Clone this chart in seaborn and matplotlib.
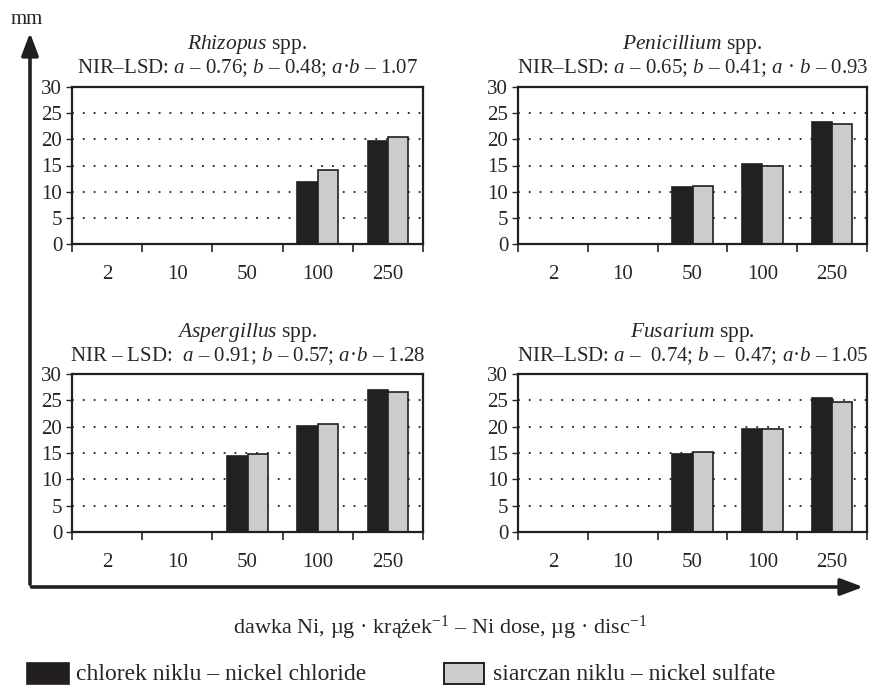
import numpy as np
import pandas as pd
import matplotlib
matplotlib.use("Agg")
import matplotlib.pyplot as plt
from matplotlib.patches import FancyArrowPatch, Rectangle
import seaborn as sns

# dane (mm)
doses = ["2", "10", "50", "100", "250"]
salts = ["chlorek niklu – nickel chloride", "siarczan niklu – nickel sulfate"]

rhizopus_chloride = [0, 0, 0, 11.8, 19.7]
rhizopus_sulfate = [0, 0, 0, 14.2, 20.4]
penicillium_chloride = [0, 0, 10.8, 15.3, 23.3]
penicillium_sulfate = [0, 0, 11.1, 14.9, 23.0]
aspergillus_chloride = [0, 0, 14.4, 20.1, 27.0]
aspergillus_sulfate = [0, 0, 14.9, 20.6, 26.6]
fusarium_chloride = [0, 0, 14.9, 19.6, 25.4]
fusarium_sulfate = [0, 0, 15.2, 19.6, 24.6]

genus = ["Rhizopus", "Penicillium", "Aspergillus", "Fusarium"]
nir = [
    "NIR–LSD: $a$ – 0.76; $b$ – 0.48; $a$·$b$ – 1.07",
    "NIR–LSD: $a$ – 0.65; $b$ – 0.41; $a$ · $b$ – 0.93",
    "NIR – LSD:  $a$ – 0.91; $b$ – 0.57; $a$·$b$ – 1.28",
    "NIR–LSD: $a$ –  0.74; $b$ –  0.47; $a$·$b$ – 1.05",
]
chloride = [rhizopus_chloride, penicillium_chloride, aspergillus_chloride, fusarium_chloride]
sulfate = [rhizopus_sulfate, penicillium_sulfate, aspergillus_sulfate, fusarium_sulfate]

colors = ["#231f20", "#cccccc"]

sns.set_style("ticks")
plt.rcParams["font.family"] = ["Liberation Serif", "DejaVu Serif"]
plt.rcParams["mathtext.fontset"] = "custom"
plt.rcParams["mathtext.rm"] = "Liberation Serif"
plt.rcParams["mathtext.it"] = "Liberation Serif:italic"
plt.rcParams["axes.edgecolor"] = "#231f20"

W, H = 882, 687
fig = plt.figure(figsize=(W / 100, H / 100), dpi=100)


def px_box(x0, y0, x1, y1):
    return [x0 / W, 1 - y1 / H, (x1 - x0) / W, (y1 - y0) / H]


boxes = [
    px_box(72, 87, 423, 244),
    px_box(518, 87, 867, 244),
    px_box(72, 374, 423, 532),
    px_box(518, 374, 867, 532),
]

for i in range(4):
    ax = fig.add_axes(boxes[i])
    d = pd.DataFrame({
        "dose": doses * 2,
        "salt": [salts[0]] * len(doses) + [salts[1]] * len(doses),
        "mm": chloride[i] + sulfate[i],
    })
    sns.barplot(data=d, x="dose", y="mm", hue="salt", order=doses, hue_order=salts,
                palette=colors, width=0.58, edgecolor="#231f20", linewidth=1.2,
                legend=False, ax=ax)
    ax.set_ylim(0, 30)
    ax.set_xlim(-0.5, 4.5)
    ax.set_yticks(range(0, 31, 5))
    ax.set_xlabel("")
    ax.set_ylabel("")
    ax.yaxis.grid(True, color="#231f20", linestyle=(0, (1, 5)), linewidth=1.3)
    ax.set_axisbelow(True)
    for s in ax.spines.values():
        s.set_visible(True)
        s.set_linewidth(1.6)
    ax.tick_params(axis="y", length=4, width=1, direction="out", pad=3, labelsize=15)
    ax.tick_params(axis="x", which="major", length=0, pad=15, labelsize=15)
    ax.set_xticks(np.arange(-0.5, 5, 1), minor=True)
    ax.tick_params(axis="x", which="minor", length=6, width=1.2, direction="out")
    top = 43 if i < 2 else 41
    low = 19 if i < 2 else 18
    ax.annotate(r"$\mathit{%s}$ spp." % genus[i], (0.5, 1), xycoords="axes fraction",
                xytext=(0, top * 0.72), textcoords="offset points",
                ha="center", va="center", fontsize=15.5)
    ax.annotate(nir[i], (0.5, 1), xycoords="axes fraction",
                xytext=(0, low * 0.72), textcoords="offset points",
                ha="center", va="center", fontsize=15)

# osie ze strzałkami
ay = 1 - 587 / H
fig.add_artist(FancyArrowPatch((30 / W, ay), (30 / W, 1 - 30 / H), transform=fig.transFigure,
                               arrowstyle="-|>,head_length=0.8,head_width=0.3",
                               mutation_scale=17, linewidth=2.6, color="#231f20"))
fig.add_artist(FancyArrowPatch((28.7 / W, ay), (866 / W, ay), transform=fig.transFigure,
                               arrowstyle="-|>,head_length=0.8,head_width=0.3",
                               mutation_scale=17, linewidth=2.6, color="#231f20"))
fig.text(27 / W, 1 - 20 / H, "mm", ha="center", va="center", fontsize=15)

fig.text(440 / W, 1 - 628 / H, "dawka Ni, µg · krążek$^{-1}$ – Ni dose, µg · disc$^{-1}$",
         ha="center", va="center", fontsize=16)

# legenda
fig.add_artist(Rectangle((27 / W, 1 - 684 / H), 42 / W, 21 / H, transform=fig.transFigure,
                         facecolor=colors[0], edgecolor="#231f20", linewidth=1.2))
fig.text(76 / W, 1 - 674 / H, salts[0], ha="left", va="center", fontsize=17)
fig.add_artist(Rectangle((444 / W, 1 - 684 / H), 40 / W, 21 / H, transform=fig.transFigure,
                         facecolor=colors[1], edgecolor="#231f20", linewidth=1.4))
fig.text(493 / W, 1 - 674 / H, salts[1], ha="left", va="center", fontsize=17)

fig.savefig("out.png", dpi=100)
